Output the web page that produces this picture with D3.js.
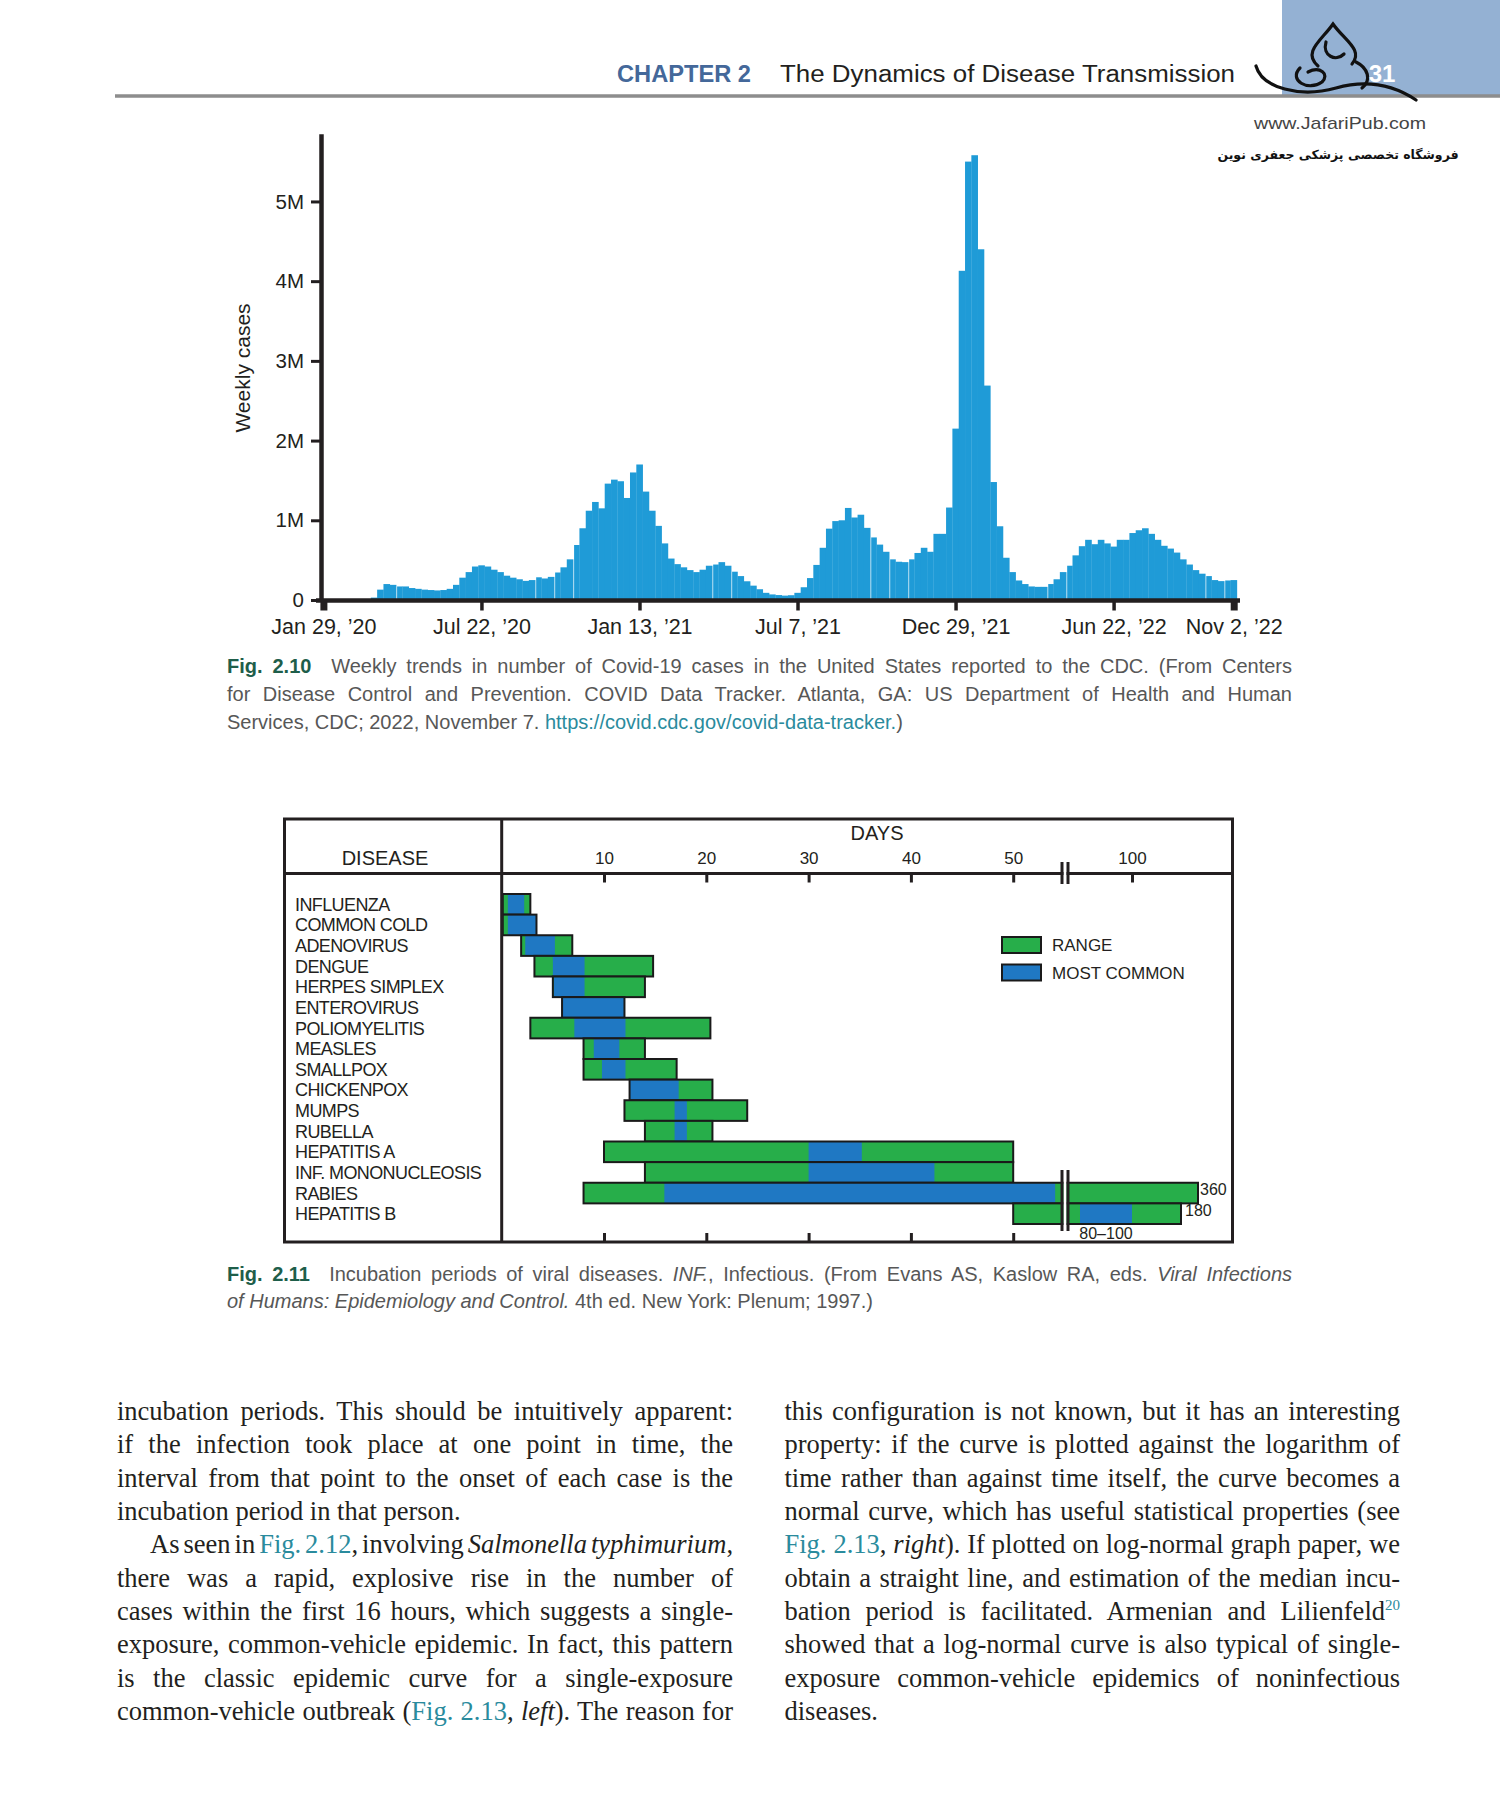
<!DOCTYPE html>
<html>
<head>
<meta charset="utf-8">
<style type="text/css">
body { margin: 0; background: #fff; }
svg text { font-family: "Liberation Sans", Arial, Helvetica, sans-serif; }
.body { font-family: "Liberation Serif", "Times New Roman", serif; font-size: 26.5px; fill: #231f20; }
.cap { font-size: 20px; fill: #575757; }
.figno { font-weight: bold; fill: #1e5e4a; }
.link { fill: #2a8b9d; }
.it { font-style: italic; }
.sup { font-size: 15px; fill: #2a8b9d; }
.axis text { fill: #231f20; }
.lbl { font-size: 18px; fill: #231f20; letter-spacing: -0.6px; }
</style>
<script src="https://cdn.jsdelivr.net/npm/d3@7"></script>
</head>
<body>
<script type="text/javascript">
// ---- Fig 2.10 data: weekly US Covid-19 cases (millions), one bar per week from Mar 25 2020 ----
var firstWeek = new Date(2020, 2, 25);
var weeklyCasesM = [
	0.03, 0.13, 0.20, 0.19, 0.17, 0.17, 0.15, 0.14, 0.13, 0.125,
	0.12, 0.125, 0.14, 0.19, 0.28, 0.35, 0.42, 0.435, 0.42, 0.38,
	0.35, 0.305, 0.28, 0.26, 0.24, 0.25, 0.285, 0.27, 0.29, 0.345,
	0.41, 0.51, 0.69, 0.90, 1.12, 1.23, 1.15, 1.46, 1.51, 1.49,
	1.28, 1.60, 1.70, 1.36, 1.12, 0.93, 0.71, 0.52, 0.45, 0.41,
	0.375, 0.35, 0.38, 0.43, 0.445, 0.475, 0.43, 0.355, 0.30, 0.235,
	0.18, 0.135, 0.09, 0.07, 0.062, 0.055, 0.06, 0.09, 0.16, 0.275,
	0.44, 0.655, 0.895, 0.99, 1.0, 1.155, 1.035, 1.07, 0.905, 0.785,
	0.695, 0.605, 0.51, 0.48, 0.475, 0.51, 0.59, 0.655, 0.605, 0.83,
	0.83, 1.16, 2.15, 4.13, 5.5, 5.58, 4.4, 2.69, 1.48, 0.925,
	0.53, 0.35, 0.245, 0.20, 0.17, 0.165, 0.165, 0.20, 0.26, 0.35,
	0.43, 0.56, 0.675, 0.755, 0.70, 0.755, 0.71, 0.67, 0.755, 0.755,
	0.84, 0.875, 0.90, 0.83, 0.755, 0.68, 0.645, 0.595, 0.51, 0.445,
	0.375, 0.33, 0.30, 0.25, 0.237, 0.245, 0.25
];
// bars that show a thin white seam on their left side
var seamBars = [4, 26, 29, 32, 54, 57, 79, 82, 85, 107, 110, 132, 135];
var xTickDates = [new Date(2020,0,29), new Date(2020,6,22), new Date(2021,0,13), new Date(2021,6,7),
	new Date(2021,11,29), new Date(2022,5,22), new Date(2022,10,2)];
var xTickLabels = ["Jan 29, \u201920", "Jul 22, \u201920", "Jan 13, \u201921", "Jul 7, \u201921",
	"Dec 29, \u201921", "Jun 22, \u201922", "Nov 2, \u201922"];
var yTicksM = [0, 1, 2, 3, 4, 5];

// ---- Fig 2.11 data: incubation periods (days) ----
var diseases = ["INFLUENZA", "COMMON COLD", "ADENOVIRUS", "DENGUE", "HERPES SIMPLEX", "ENTEROVIRUS",
	"POLIOMYELITIS", "MEASLES", "SMALLPOX", "CHICKENPOX", "MUMPS", "RUBELLA", "HEPATITIS A",
	"INF. MONONUCLEOSIS", "RABIES", "HEPATITIS B"];
var rangeLo  = [0.1, 0.1, 1.9, 3.2, 5.0, 5.9, 2.8, 8.0, 8.0, 12.5, 12.0, 14.0, 10, 14, 8, 50];
var rangeHi  = [2.8, 3.4, 6.9, 14.8, 14.0, 12.0, 20.4, 14.0, 17.1, 20.6, 24.0, 20.6, 50, 50, 360, 180];
var commonLo = [0.6, 0.6, 2.3, 5.0, 5.1, 5.9, 7.1, 9.0, 9.8, 12.5, 16.9, 16.9, 30, 30, 15.9, 80];
var commonHi = [2.2, 3.4, 5.2, 8.1, 8.1, 12.0, 12.1, 11.5, 12.1, 17.3, 18.1, 18.1, 35.2, 42.3, 54.3, 100];
var dayTicksTop = [10, 20, 30, 40, 50, 100];
var dayTicksBottom = [10, 20, 30, 40, 50];
var legendItems = ["RANGE", "MOST COMMON"];

var INK = "#231f20";
var svg = d3.select("body").append("svg").attr("width", 1500).attr("height", 1813);

// ---------- page header ----------
svg.append("rect").attr("x", 1282).attr("y", 0).attr("width", 218).attr("height", 95).attr("fill", "#94b1d3");
svg.append("line").attr("x1", 115).attr("x2", 1500).attr("y1", 96).attr("y2", 96)
	.attr("stroke", "#8d8d8d").attr("stroke-width", 3.5);
svg.append("text").attr("x", 617).attr("y", 82).attr("textLength", 134).attr("lengthAdjust", "spacingAndGlyphs")
	.style("font-size", "23px").style("font-weight", "bold").attr("fill", "#44689a").text("CHAPTER 2");
svg.append("text").attr("x", 780).attr("y", 82).attr("textLength", 455).attr("lengthAdjust", "spacingAndGlyphs")
	.style("font-size", "23px").attr("fill", INK).text("The Dynamics of Disease Transmission");
// rough logo strokes
var logo = svg.append("g").attr("fill", "none").attr("stroke", "#111").attr("stroke-width", 3.2).attr("stroke-linecap", "round");
logo.append("path").attr("d", "M1318,66 C1302,52 1322,40 1333,24 C1344,40 1364,50 1352,64");
logo.append("path").attr("d", "M1326,42 C1322,56 1336,62 1344,54");
logo.append("path").attr("d", "M1256,66 C1262,88 1300,98 1336,88 C1372,78 1398,88 1416,100");
logo.append("path").attr("d", "M1300,68 C1288,80 1308,92 1322,82 C1330,74 1320,66 1308,72");
logo.append("path").attr("d", "M1356,62 C1368,68 1372,80 1362,88");
svg.append("text").attr("x", 1382).attr("y", 82).attr("text-anchor", "middle")
	.style("font-size", "24px").style("font-weight", "bold").attr("fill", "#fff").text("31");
svg.append("text").attr("x", 1254).attr("y", 129).attr("textLength", 172).attr("lengthAdjust", "spacingAndGlyphs")
	.style("font-size", "17px").attr("fill", "#444").text("www.JafariPub.com");
svg.append("text").attr("x", 1338).attr("y", 159).attr("text-anchor", "middle").attr("direction", "rtl")
	.style("font-family", "'DejaVu Sans', sans-serif").style("font-size", "12.5px").style("font-weight", "bold")
	.attr("fill", "#111").text("فروشگاه تخصصی پزشکی جعفری نوین");

// ---------- Fig 2.10 ----------
var x1 = d3.scaleTime().domain([xTickDates[0], xTickDates[xTickDates.length - 1]]).range([323.4, 1233.7]);
var y1 = d3.scaleLinear().domain([0, 5.85]).range([600, 133.7]);
var weeks = weeklyCasesM.map(function(v, i) { return d3.timeDay.offset(firstWeek, 7 * i); });
var bw = x1(d3.timeDay.offset(firstWeek, 7)) - x1(firstWeek);

svg.append("g").selectAll("rect").data(weeklyCasesM).enter().append("rect")
	.attr("x", function(d, i) { return x1(weeks[i]) - bw / 2 + (seamBars.indexOf(i) >= 0 ? 1 : 0); })
	.attr("width", function(d, i) { return bw + 0.3 - (seamBars.indexOf(i) >= 0 ? 1 : 0); })
	.attr("y", function(d) { return y1(d); })
	.attr("height", function(d) { return y1(0) - y1(d); })
	.attr("fill", "#1f9bd7");

var yAx = svg.append("g").attr("class", "axis").attr("transform", "translate(321,0)")
	.call(d3.axisLeft(y1).tickValues(yTicksM).tickSizeInner(10).tickSizeOuter(0).tickPadding(7)
		.tickFormat(function(d) { return d ? d + "M" : "0"; }));
yAx.select(".domain").attr("stroke", INK).attr("stroke-width", 4.5);
yAx.selectAll(".tick line").attr("stroke", INK).attr("stroke-width", 3);
yAx.selectAll("text").style("font-size", "20.5px");

var xAx = svg.append("g").attr("class", "axis").attr("transform", "translate(0,600.5)")
	.call(d3.axisBottom(x1).tickValues(xTickDates).tickSizeInner(10).tickSizeOuter(0).tickPadding(8)
		.tickFormat(function(d, i) { return xTickLabels[i]; }));
xAx.select(".domain").remove();
xAx.append("line").attr("x1", 316).attr("x2", 1240).attr("stroke", INK).attr("stroke-width", 4.5);
xAx.selectAll(".tick line").attr("stroke", INK)
	.attr("stroke-width", function(d, i) { return (i === 0 || i === xTickDates.length - 1) ? 7 : 3.5; });
xAx.selectAll("text").style("font-size", "21.5px");

svg.append("text").attr("transform", "translate(250,368) rotate(-90)").attr("text-anchor", "middle")
	.style("font-size", "21px").attr("fill", INK).text("Weekly cases");

// ---------- caption / text helper ----------
function textLine(x, y, w, parts, cls, justify) {
	var t = svg.append("text").attr("class", cls).attr("x", x).attr("y", y)
		.attr("xml:space", "preserve").style("white-space", "pre");
	parts.forEach(function(p) {
		var s = t.append("tspan").text(p[0]);
		if (p[1]) s.attr("class", p[1]);
		if (p[1] === "sup") s.attr("dy", -10);
	});
	if (justify) {
		var natural = t.node().getComputedTextLength();
		var spaces = parts.map(function(p) { return p[0]; }).join("").split(" ").length - 1;
		if (spaces > 0) t.attr("word-spacing", (w - natural) / spaces);
	}
	return t;
}

textLine(227, 673, 1065, [["Fig. 2.10", "figno"], ["  Weekly trends in number of Covid-19 cases in the United States reported to the CDC. (From Centers"]], "cap", true);
textLine(227, 701, 1065, [["for Disease Control and Prevention. COVID Data Tracker. Atlanta, GA: US Department of Health and Human"]], "cap", true);
textLine(227, 728.5, 0, [["Services, CDC; 2022, November 7. "], ["https://covid.cdc.gov/covid-data-tracker.", "link"], [")"]], "cap", false);

// ---------- Fig 2.11 ----------
var BX0 = 284.5, BX1 = 1232.5, BY0 = 819, BY1 = 1242, DIV = 501.7, HLINE = 873.5;
var x2 = d3.scaleLinear().domain([0, 50, 55, 60, 80, 100, 180, 360])
	.range([DIV, 1013.2, 1062, 1068, 1080, 1132, 1181, 1198]);
var y2 = d3.scaleBand().domain(diseases).range([894, 1224]).padding(0);
var GREEN = "#27ae4a", BLUE = "#1f78c3";

var rows = svg.append("g").selectAll("g").data(diseases).enter().append("g");
rows.append("rect").attr("x", function(d, i) { return x2(rangeLo[i]); })
	.attr("width", function(d, i) { return x2(rangeHi[i]) - x2(rangeLo[i]); })
	.attr("y", function(d) { return y2(d); }).attr("height", y2.bandwidth()).attr("fill", GREEN);
rows.append("rect").attr("x", function(d, i) { return x2(commonLo[i]); })
	.attr("width", function(d, i) { return x2(commonHi[i]) - x2(commonLo[i]); })
	.attr("y", function(d) { return y2(d); }).attr("height", y2.bandwidth()).attr("fill", BLUE);
rows.append("rect").attr("x", function(d, i) { return x2(rangeLo[i]); })
	.attr("width", function(d, i) { return x2(rangeHi[i]) - x2(rangeLo[i]); })
	.attr("y", function(d) { return y2(d); }).attr("height", y2.bandwidth())
	.attr("fill", "none").attr("stroke", "#1a1a1a").attr("stroke-width", 2);
svg.append("g").selectAll("text").data(diseases).enter().append("text").attr("class", "lbl")
	.attr("x", 295).attr("y", function(d) { return y2(d) + y2.bandwidth() / 2; }).attr("dy", "0.36em")
	.text(function(d) { return d; });

// frame
svg.append("rect").attr("x", BX0).attr("y", BY0).attr("width", BX1 - BX0).attr("height", BY1 - BY0)
	.attr("fill", "none").attr("stroke", INK).attr("stroke-width", 3);
svg.append("line").attr("x1", DIV).attr("x2", DIV).attr("y1", BY0).attr("y2", BY1).attr("stroke", INK).attr("stroke-width", 3);
svg.append("line").attr("x1", BX0).attr("x2", BX1).attr("y1", HLINE).attr("y2", HLINE).attr("stroke", INK).attr("stroke-width", 3);

var topAx = svg.append("g").attr("class", "axis").attr("transform", "translate(0," + HLINE + ")")
	.call(d3.axisTop(x2).tickValues(dayTicksTop).tickSizeInner(-9).tickSizeOuter(0).tickPadding(10));
topAx.select(".domain").remove();
topAx.selectAll(".tick line").attr("stroke", INK).attr("stroke-width", 3);
topAx.selectAll("text").style("font-size", "17px");
var botAx = svg.append("g").attr("class", "axis").attr("transform", "translate(0," + BY1 + ")")
	.call(d3.axisBottom(x2).tickValues(dayTicksBottom).tickSizeInner(-9).tickSizeOuter(0).tickFormat(""));
botAx.select(".domain").remove();
botAx.selectAll(".tick line").attr("stroke", INK).attr("stroke-width", 3);

// scale break marks
[[862, 884], [1170, 1231]].forEach(function(b) {
	svg.append("rect").attr("x", x2(55) + 1.5).attr("y", b[0]).attr("width", x2(60) - x2(55) - 3)
		.attr("height", b[1] - b[0]).attr("fill", "#fff");
	[55, 60].forEach(function(v) {
		svg.append("line").attr("x1", x2(v)).attr("x2", x2(v)).attr("y1", b[0]).attr("y2", b[1])
			.attr("stroke", INK).attr("stroke-width", 3);
	});
});

svg.append("text").attr("x", 385).attr("y", 865).attr("text-anchor", "middle").style("font-size", "20px").attr("fill", INK).text("DISEASE");
svg.append("text").attr("x", 877).attr("y", 840).attr("text-anchor", "middle").style("font-size", "20px").attr("fill", INK).text("DAYS");

var rb = y2("RABIES"), hb = y2("HEPATITIS B"), bh = y2.bandwidth();
svg.append("text").attr("x", x2(360) + 2).attr("y", rb + bh / 2 + 2).style("font-size", "16px").attr("fill", INK).text("360");
svg.append("text").attr("x", x2(180) + 4).attr("y", hb + bh / 2 + 2).style("font-size", "16px").attr("fill", INK).text("180");
svg.append("text").attr("x", (x2(80) + x2(100)) / 2).attr("y", BY1 - 3).attr("text-anchor", "middle")
	.style("font-size", "16px").attr("fill", INK).text("80\u2013100");

// legend
var lg = svg.append("g").selectAll("g").data(legendItems).enter().append("g")
	.attr("transform", function(d, i) { return "translate(1002," + (937 + i * 27.5) + ")"; });
lg.append("rect").attr("width", 39).attr("height", 16).attr("fill", function(d, i) { return i ? BLUE : GREEN; })
	.attr("stroke", "#1a1a1a").attr("stroke-width", 2);
lg.append("text").attr("x", 50).attr("y", 8).attr("dy", "0.36em").style("font-size", "17px").attr("fill", INK)
	.text(function(d) { return d; });

textLine(227, 1281, 1065, [["Fig. 2.11", "figno"], ["  Incubation periods of viral diseases. "], ["INF.", "it"],
	[", Infectious. (From Evans AS, Kaslow RA, eds. "], ["Viral Infections", "it"]], "cap", true);
textLine(227, 1308, 0, [["of Humans: Epidemiology and Control.", "it"], [" 4th ed. New York: Plenum; 1997.)"]], "cap", false);

// ---------- body text ----------
var lineY = [1420, 1453.3, 1486.7, 1520, 1553.3, 1586.7, 1620, 1653.3, 1686.7, 1720];
var col1 = [
	[["incubation periods. This should be intuitively apparent:"]],
	[["if the infection took place at one point in time, the"]],
	[["interval from that point to the onset of each case is the"]],
	[["incubation period in that person."]],
	[["As seen in "], ["Fig. 2.12", "link"], [", involving "], ["Salmonella typhimurium", "it"], [","]],
	[["there was a rapid, explosive rise in the number of"]],
	[["cases within the first 16 hours, which suggests a single-"]],
	[["exposure, common-vehicle epidemic. In fact, this pattern"]],
	[["is the classic epidemic curve for a single-exposure"]],
	[["common-vehicle outbreak ("], ["Fig. 2.13", "link"], [", "], ["left", "it"], ["). The reason for"]]
];
var col2 = [
	[["this configuration is not known, but it has an interesting"]],
	[["property: if the curve is plotted against the logarithm of"]],
	[["time rather than against time itself, the curve becomes a"]],
	[["normal curve, which has useful statistical properties (see"]],
	[["Fig. 2.13", "link"], [", "], ["right", "it"], ["). If plotted on log-normal graph paper, we"]],
	[["obtain a straight line, and estimation of the median incu-"]],
	[["bation period is facilitated. Armenian and Lilienfeld"], ["20", "sup"]],
	[["showed that a log-normal curve is also typical of single-"]],
	[["exposure common-vehicle epidemics of noninfectious"]],
	[["diseases."]]
];
col1.forEach(function(parts, i) {
	var ind = i === 4 ? 33 : 0;
	textLine(117 + ind, lineY[i], 616 - ind, parts, "body", i !== 3);
});
col2.forEach(function(parts, i) {
	textLine(784.5, lineY[i], 615.5, parts, "body", i !== 9);
});
</script>
</body>
</html>
